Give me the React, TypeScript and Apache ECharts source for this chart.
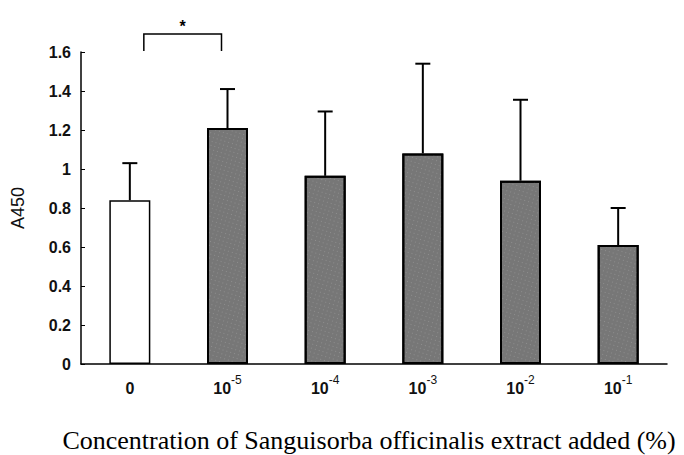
import React, { useEffect, useRef } from "react";
import * as echarts from "echarts";

const categories = ["0", "10^-5", "10^-4", "10^-3", "10^-2", "10^-1"];
const means = [0.84, 1.21, 0.965, 1.08, 0.94, 0.61];
const errors = [0.19, 0.2, 0.33, 0.46, 0.415, 0.19];
const yTicks = { min: 0, max: 1.6, interval: 0.2 };
const bracketPair = [0, 1];
const xTitle = "Concentration of Sanguisorba officinalis extract added (%)";
const yTitle = "A450";

export default function App() {
  const ref = useRef<HTMLDivElement>(null);
  useEffect(() => {
    if (!ref.current) return;
    const chart = echarts.init(ref.current, null, { renderer: "svg" });
    const font = "Liberation Sans, Arial, sans-serif";
    chart.setOption({
      animation: false,
      grid: { left: 81, right: 17, top: 52, bottom: 91, containLabel: false },
      xAxis: {
        type: "category",
        data: categories,
        axisLine: { lineStyle: { color: "#000", width: 1.5 } },
        axisTick: { inside: true, length: 4, lineStyle: { color: "#000" } },
        axisLabel: {
          color: "#111",
          fontFamily: font,
          fontSize: 15,
          margin: 10,
          formatter: (v: string) => {
            const parts = v.split("^");
            return parts.length > 1 ? `{b|${parts[0]}}{s|${parts[1]}}` : `{b|${v}}`;
          },
          rich: {
            b: { fontSize: 16, fontFamily: font, color: "#111", fontWeight: "bold", lineHeight: 22, verticalAlign: "bottom" },
            s: { fontSize: 12, fontFamily: font, color: "#111", lineHeight: 22, verticalAlign: "top", padding: [0, 0, 10, 0] },
          },
        },
      },
      yAxis: {
        type: "value",
        min: yTicks.min,
        max: yTicks.max,
        interval: yTicks.interval,
        name: yTitle,
        nameLocation: "middle",
        nameGap: 54,
        nameTextStyle: { color: "#111", fontSize: 18, fontFamily: font },
        axisLine: { show: true, lineStyle: { color: "#000", width: 1.5 } },
        axisTick: { show: true, inside: true, length: 4, lineStyle: { color: "#000" } },
        splitLine: { show: false },
        axisLabel: { color: "#111", fontSize: 16, fontWeight: "bold", fontFamily: font, margin: 10 },
      },
      series: [
        {
          type: "bar",
          barWidth: 41,
          data: means.map((v, i) => ({
            value: v,
            itemStyle:
              i === 0
                ? { color: "#fff", borderColor: "#000", borderWidth: 1.5 }
                : {
                    color: "#777",
                    borderColor: "#000",
                    borderWidth: 2,
                    decal: {
                      symbol: "rect",
                      symbolSize: 0.6,
                      color: "rgba(255,255,255,0.55)",
                      dashArrayX: [1, 3],
                      dashArrayY: [1, 3],
                      rotation: 0.3,
                    },
                  },
          })),
          z: 2,
        },
        {
          type: "custom",
          z: 3,
          data: means.map((v, i) => [i, v, v + errors[i]]),
          renderItem: (params: any, api: any) => {
            const x = api.value(0);
            const lo = api.coord([x, api.value(1)]);
            const hi = api.coord([x, api.value(2)]);
            const cap = 7.5;
            return {
              type: "group",
              children: [
                { type: "line", shape: { x1: lo[0], y1: lo[1], x2: hi[0], y2: hi[1] }, style: { stroke: "#000", lineWidth: 2 } },
                { type: "line", shape: { x1: hi[0] - cap, y1: hi[1], x2: hi[0] + cap, y2: hi[1] }, style: { stroke: "#000", lineWidth: 2 } },
              ],
            };
          },
        },
      ],
    });
    const p0 = chart.convertToPixel({ xAxisIndex: 0 }, bracketPair[0]) as number;
    const p1 = chart.convertToPixel({ xAxisIndex: 0 }, bracketPair[1]) as number;
    const yTop = chart.convertToPixel({ yAxisIndex: 0 }, yTicks.max) as number;
    const xl = p0 + 14;
    const xr = p1 - 6;
    const by = yTop - 18;
    chart.setOption({
      graphic: [
        {
          type: "polyline",
          shape: { points: [[xl, by + 17], [xl, by], [xr, by], [xr, by + 17]] },
          style: { stroke: "#000", lineWidth: 1.5, fill: null },
        },
        {
          type: "text",
          x: (xl + xr) / 2,
          y: by - 8,
          style: { text: "*", fill: "#000", fontSize: 16, fontWeight: "bold", fontFamily: font, textAlign: "center", textVerticalAlign: "middle" },
        },
        {
          type: "text",
          x: 369,
          y: 440,
          style: { text: xTitle, fill: "#000", fontSize: 26, fontFamily: "Liberation Serif, Times New Roman, serif", textAlign: "center", textVerticalAlign: "middle" },
        },
      ],
    });
    return () => chart.dispose();
  }, []);
  return <div ref={ref} style={{ width: 684, height: 455, position: "absolute", left: 0, top: 0 }} />;
}
